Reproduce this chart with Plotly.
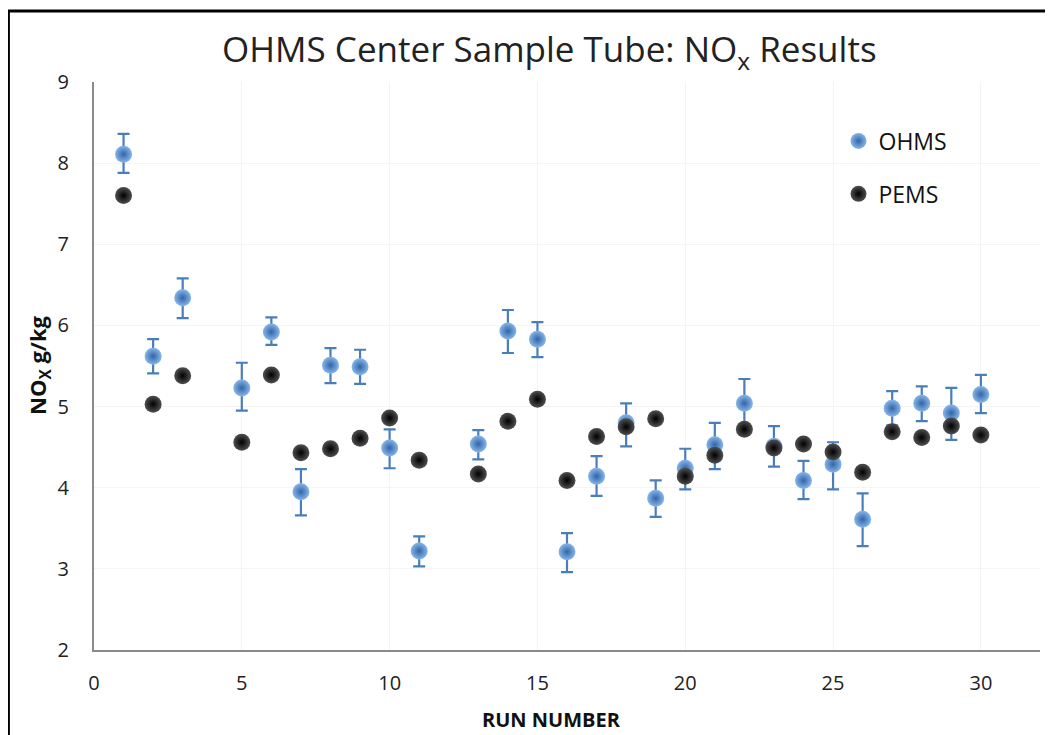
import plotly.graph_objects as go

runs_ohms = [1, 2, 3, 5, 6, 7, 8, 9, 10, 11, 13, 14, 15, 16, 17, 18, 19, 20, 21, 22, 23, 24, 25, 26, 27, 28, 29, 30]
ohms = [8.11, 5.62, 6.34, 5.23, 5.92, 3.95, 5.51, 5.49, 4.49, 3.22, 4.54, 5.93, 5.83, 3.21, 4.14, 4.80, 3.87, 4.24, 4.53, 5.04, 4.51, 4.09, 4.29, 3.61, 4.98, 5.04, 4.92, 5.15]
ohms_err_plus = [0.25, 0.21, 0.24, 0.31, 0.18, 0.28, 0.21, 0.21, 0.23, 0.18, 0.17, 0.26, 0.21, 0.23, 0.25, 0.24, 0.22, 0.24, 0.27, 0.30, 0.25, 0.24, 0.27, 0.32, 0.21, 0.21, 0.31, 0.24]
ohms_err_minus = [0.23, 0.21, 0.25, 0.28, 0.16, 0.29, 0.22, 0.21, 0.25, 0.19, 0.19, 0.27, 0.22, 0.25, 0.24, 0.29, 0.23, 0.26, 0.30, 0.30, 0.25, 0.23, 0.31, 0.33, 0.21, 0.22, 0.33, 0.23]

runs_pems = [1, 2, 3, 5, 6, 7, 8, 9, 10, 11, 13, 14, 15, 16, 17, 18, 19, 20, 21, 22, 23, 24, 25, 26, 27, 28, 29, 30]
pems = [7.60, 5.03, 5.38, 4.56, 5.39, 4.43, 4.48, 4.61, 4.86, 4.34, 4.17, 4.82, 5.09, 4.09, 4.63, 4.75, 4.85, 4.14, 4.40, 4.72, 4.49, 4.54, 4.44, 4.19, 4.69, 4.62, 4.76, 4.65]

x_ticks = [0, 5, 10, 15, 20, 25, 30]
y_ticks = [2, 3, 4, 5, 6, 7, 8, 9]

FONT = "Open Sans, DejaVu Sans, sans-serif"

fig = go.Figure()

fig.add_trace(go.Scatter(
    x=runs_ohms, y=ohms, mode="markers", name="OHMS", legendgroup="a",
    marker=dict(size=17, color="#86b6ea", gradient=dict(type="radial", color="#3364a6"),
                line=dict(width=0)),
    error_y=dict(type="data", symmetric=False, array=ohms_err_plus, arrayminus=ohms_err_minus,
                 color="#4a7ebb", thickness=2.2, width=6),
))
fig.add_trace(go.Scatter(
    x=runs_pems, y=pems, mode="markers", name="PEMS", legendgroup="b",
    marker=dict(size=17, color="#505050", gradient=dict(type="radial", color="#000000"),
                line=dict(width=0)),
))

axis_font = dict(family=FONT, size=20, color="#222")

# page body has an 8px margin: figure is offset by (8, 8) in the window
fig.update_layout(
    width=1045, height=727,
    margin=dict(l=86, r=13, t=74, b=85),
    paper_bgcolor="white", plot_bgcolor="white",
    title=dict(text="OHMS Center Sample Tube: NO<sub>x</sub> Results",
               x=0.518, xanchor="center", y=0.942, yanchor="middle",
               font=dict(family=FONT, size=35, color="#222")),
    xaxis=dict(range=[0, 32], tickvals=x_ticks, showgrid=True, gridcolor="#f4f4f4",
               showline=True, linecolor="#8a8a8a", linewidth=2, zeroline=False,
               ticks="", tickfont=axis_font, ticklabelstandoff=14, automargin=False),
    yaxis=dict(range=[2, 9], tickvals=y_ticks, showgrid=True, gridcolor="#f4f4f4",
               showline=True, linecolor="#8a8a8a", linewidth=2, zeroline=False,
               ticks="", tickfont=axis_font, ticklabelstandoff=19, automargin=False),
    legend=dict(x=0.787, y=0.934, xanchor="left", yanchor="top", traceorder="grouped",
                tracegroupgap=20, bgcolor="rgba(0,0,0,0)",
                font=dict(family=FONT, size=23, color="#111"),
                itemwidth=30),
    showlegend=True,
)

fig.add_annotation(text="<b>RUN NUMBER</b>", xref="paper", yref="paper",
                   x=0.484, y=-0.123, xanchor="center", yanchor="middle", showarrow=False,
                   font=dict(family=FONT, size=20, color="#111"))
fig.add_annotation(text="<b>NO<sub>X</sub> g/kg</b>", xref="paper", yref="paper",
                   x=-0.058, y=0.502, xanchor="center", yanchor="middle", showarrow=False,
                   textangle=-90, font=dict(family=FONT, size=22, color="#111"))

fig.add_shape(type="rect", xref="paper", yref="paper",
              x0=-0.0905, x1=1.3, y0=-0.3, y1=1.125,
              line=dict(color="black", width=3), fillcolor="rgba(0,0,0,0)", layer="above")

fig.write_html("out.html")
